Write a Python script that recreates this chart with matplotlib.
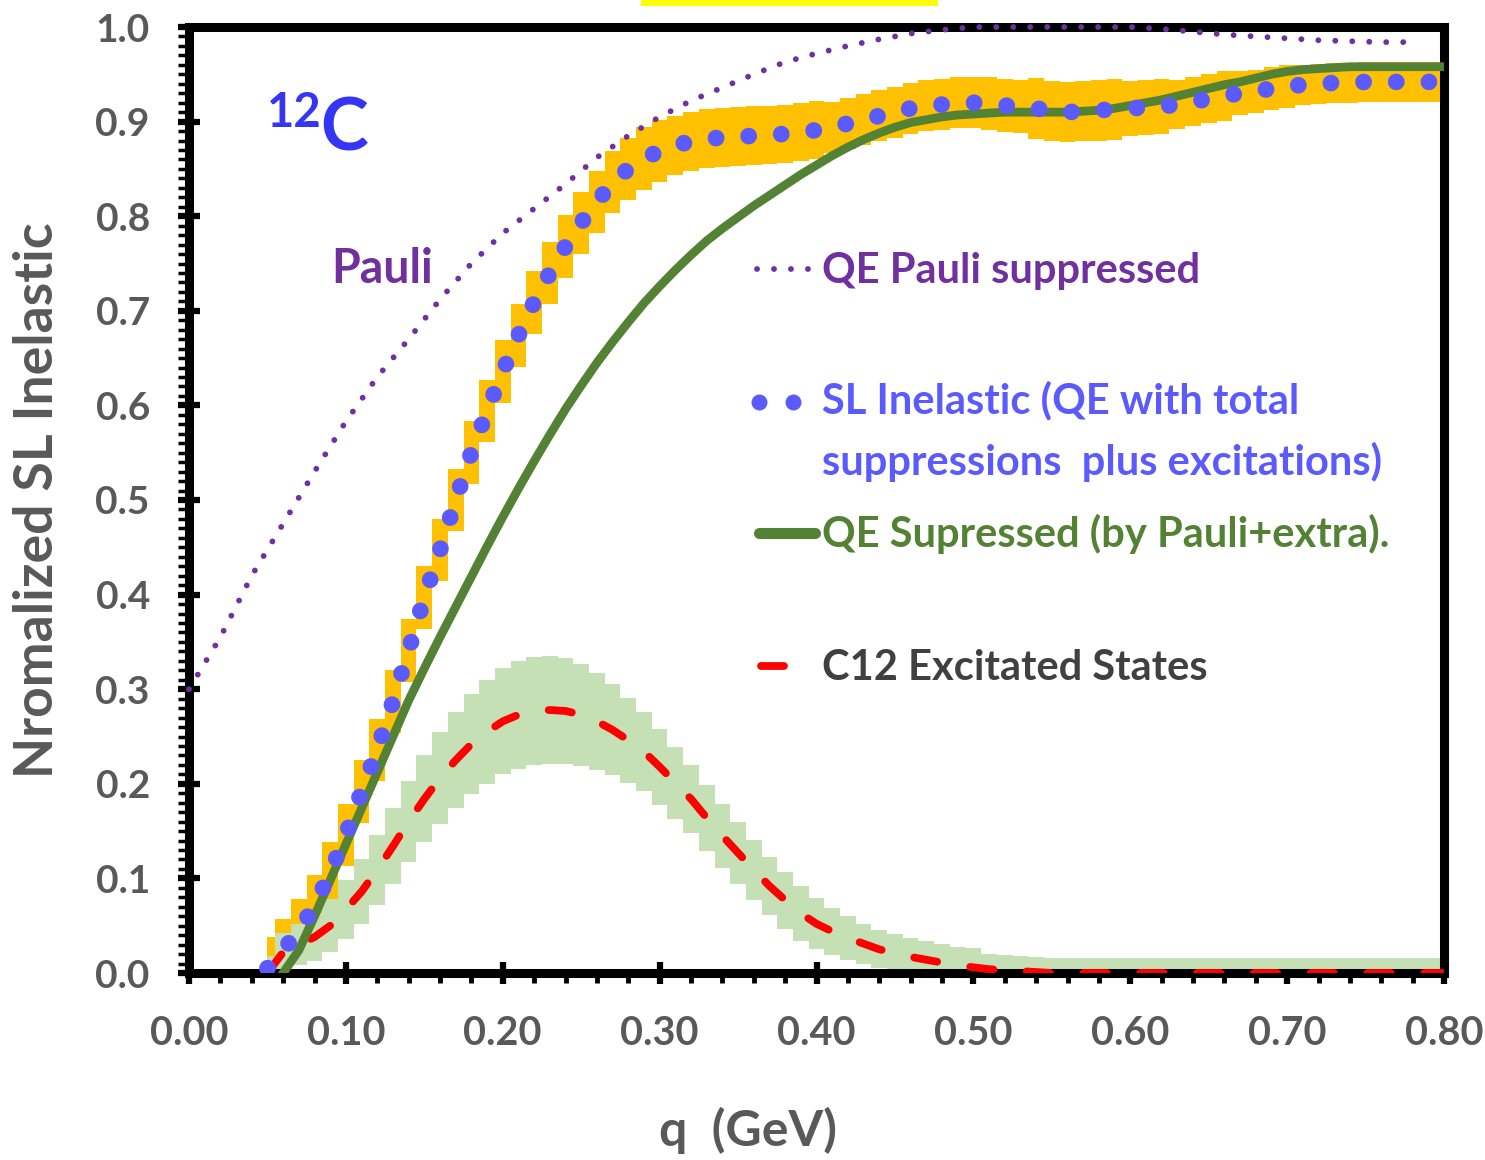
import numpy as np
import matplotlib
matplotlib.use("Agg")
import matplotlib.pyplot as plt
from matplotlib.lines import Line2D
from matplotlib.patches import Rectangle

plt.rcParams['font.family'] = ['Lato', 'DejaVu Sans']
plt.rcParams['font.weight'] = 'bold'

# sampling of the spreadsheet columns: q = 0.05 ... 0.80 GeV
q = np.round(np.arange(0.05, 0.805, 0.01), 2)

# SL inelastic (QE with total suppression plus excitations) and its band
sl = np.array([
    0.005, 0.024, 0.045, 0.071, 0.106, 0.146, 0.192, 0.236, 0.287, 0.341,
    0.397, 0.447, 0.500, 0.550, 0.594, 0.636, 0.674, 0.709, 0.740, 0.768,
    0.793, 0.815, 0.836, 0.850, 0.861, 0.869, 0.875, 0.879, 0.882, 0.883,
    0.884, 0.885, 0.886, 0.887, 0.889, 0.891, 0.894, 0.898, 0.902, 0.906,
    0.910, 0.914, 0.917, 0.918, 0.920, 0.920, 0.919, 0.917, 0.916, 0.914,
    0.911, 0.910, 0.911, 0.912, 0.913, 0.914, 0.915, 0.916, 0.918, 0.921,
    0.924, 0.927, 0.930, 0.932, 0.935, 0.937, 0.939, 0.940, 0.941, 0.941,
    0.942, 0.942, 0.942, 0.942, 0.942, 0.942])
sl_err = np.array([0.033] * 26 + [0.031] * 10 + [0.027] * 10 + [0.028] * 3
                  + [0.032] * 6 + [0.029] * 3 + [0.026] * 4 + [0.023] * 4
                  + [0.021] * 10)

# QE suppressed by Pauli + extra
qe = np.array([
    np.nan, 0.000, 0.024, 0.060, 0.098, 0.136, 0.174, 0.212, 0.250, 0.288,
    0.322, 0.355, 0.387, 0.419, 0.451, 0.482, 0.512, 0.541, 0.569, 0.596,
    0.621, 0.645, 0.667, 0.688, 0.708, 0.726, 0.743, 0.759, 0.774, 0.787,
    0.799, 0.811, 0.822, 0.833, 0.844, 0.854, 0.864, 0.873, 0.881, 0.888,
    0.894, 0.899, 0.902, 0.905, 0.907, 0.908, 0.909, 0.910, 0.910, 0.910,
    0.910, 0.910, 0.911, 0.912, 0.914, 0.917, 0.920, 0.923, 0.927, 0.931,
    0.935, 0.939, 0.942, 0.946, 0.950, 0.953, 0.955, 0.956, 0.957, 0.958,
    0.958, 0.958, 0.958, 0.958, 0.958, 0.958])

# C12 excited states and its band
c12 = np.array([
    0.000, 0.022, 0.030, 0.038, 0.050, 0.067, 0.086, 0.109, 0.134, 0.160,
    0.184, 0.206, 0.225, 0.242, 0.255, 0.266, 0.273, 0.277, 0.278, 0.277,
    0.273, 0.266, 0.257, 0.246, 0.234, 0.218, 0.201, 0.184, 0.164, 0.145,
    0.127, 0.109, 0.092, 0.077, 0.063, 0.052, 0.044, 0.037, 0.031, 0.025,
    0.021, 0.017, 0.014, 0.011, 0.008, 0.006, 0.004, 0.003, 0.002, 0.001]
    + [0.000] * 26)
c12_err = np.array([
    0.018, 0.020, 0.022, 0.025, 0.028, 0.031, 0.034, 0.037, 0.040, 0.043,
    0.046, 0.049, 0.051, 0.053, 0.055, 0.056, 0.057, 0.057, 0.057, 0.056,
    0.054, 0.051, 0.048, 0.045, 0.042, 0.040, 0.038, 0.036, 0.035, 0.034,
    0.033, 0.032, 0.031, 0.030, 0.029, 0.027, 0.025, 0.023, 0.021, 0.020]
    + [0.020] * 6 + [0.016] * 30)

# QE Pauli suppressed, coarser sampling
q_pauli = np.round(np.arange(0.0, 0.785, 0.02), 2)
pauli = np.array([
    0.300, 0.355, 0.420, 0.475, 0.530, 0.583, 0.630, 0.670, 0.712, 0.750,
    0.782, 0.808, 0.834, 0.862, 0.885, 0.905, 0.922, 0.936, 0.950, 0.963,
    0.972, 0.980, 0.987, 0.993, 0.997, 1.000, 1.000, 1.000, 1.000, 1.000,
    1.000, 0.998, 0.995, 0.992, 0.990, 0.988, 0.986, 0.985, 0.984, 0.984])

PURPLE = '#7030A0'
BLUE = '#5A5AFF'
GREEN = '#548235'
RED = '#FF0000'
GRAY = '#595959'

PAULI_LS = (0, (0.01, 2.9))
SL_LS = (0, (0.01, 1.95))
RED_LS = (0, (3.0, 4.3))

fig = plt.figure(figsize=(14.85, 11.6), dpi=100)
ax = fig.add_axes([189 / 1485, 187 / 1160, 1255 / 1485, 946 / 1160])

ax.fill_between(q, sl - sl_err, sl + sl_err, step='mid',
                color='#FFC000', lw=0, zorder=2)
ax.fill_between(q, np.clip(c12 - c12_err, 0, None), c12 + c12_err,
                step='mid', color='#C5E0B4', lw=0, zorder=2.1)

ax.plot(q, c12, color=RED, lw=5.6, ls=RED_LS,
        dash_capstyle='round', zorder=3)
ax.plot(q, qe, color=GREEN, lw=6.3, zorder=3.1)
ax.plot(q, sl, color=BLUE, lw=12, ls=SL_LS,
        dash_capstyle='round', zorder=3.2)
ax.plot(q_pauli, pauli, color=PURPLE, lw=4.2, ls=PAULI_LS,
        dash_capstyle='round', zorder=3.3, clip_on=False)

ax.set_xlim(0, 0.8)
ax.set_ylim(0, 1.0)
xt = np.round(np.arange(0, 0.81, 0.1), 2)
ax.set_xticks(xt)
ax.set_xticklabels([f'{v:.2f}' for v in xt])
ax.set_xticks(np.round(np.arange(0, 0.801, 0.02), 2), minor=True)
yt = np.round(np.arange(0, 1.01, 0.1), 1)
ax.set_yticks(yt)
ax.set_yticklabels([f'{v:.1f}' for v in yt])
ax.set_yticks(np.round(np.arange(0, 1.001, 0.01), 2), minor=True)

ax.tick_params(axis='x', which='major', direction='inout', length=16.5,
               width=4.5, pad=22, labelsize=28.5, labelcolor=GRAY)
ax.tick_params(axis='x', which='minor', direction='out', length=7.5, width=3.5)
ax.tick_params(axis='y', which='major', direction='inout', length=16.5,
               width=4.5, pad=20, labelsize=28, labelcolor=GRAY)
ax.tick_params(axis='y', which='minor', direction='out', length=8, width=2.5)
for s in ax.spines.values():
    s.set_linewidth(6.5)

# nucleus label
ax.text(0.0622, 0.894, '12', transform=ax.transAxes, fontsize=34,
        color='#3535F5', va='baseline')
ax.text(0.1044, 0.869, 'C', transform=ax.transAxes, fontsize=52,
        color='#3535F5', va='baseline')
ax.text(0.1135, 0.7294, 'Pauli', transform=ax.transAxes, fontsize=33.5,
        color=PURPLE, va='baseline')

# hand-made legend
tx = 0.5044
fs = 30
ax.add_line(Line2D([0.4526, 0.5012], [0.7442, 0.7442], transform=ax.transAxes,
                   color=PURPLE, lw=4.2, ls=PAULI_LS,
                   dash_capstyle='round', clip_on=False))
ax.text(tx, 0.7294, 'QE Pauli suppressed', transform=ax.transAxes,
        fontsize=fs, color=PURPLE, va='baseline')

ax.add_line(Line2D([0.4541, 0.4812], [0.6039, 0.6039], transform=ax.transAxes,
                   ls='none', marker='o', ms=11.5, mew=0, color=BLUE,
                   clip_on=False))
ax.text(tx, 0.5916, 'SL Inelastic (QE with total', transform=ax.transAxes,
        fontsize=fs, color=BLUE, va='baseline')
ax.text(tx, 0.5264, 'suppressions  plus excitations)', transform=ax.transAxes,
        fontsize=fs, color=BLUE, va='baseline')

ax.add_line(Line2D([0.4540, 0.4990], [0.4648, 0.4648], transform=ax.transAxes,
                   color=GREEN, lw=8, solid_capstyle='round', clip_on=False))
ax.text(tx, 0.4506, 'QE Supressed (by Pauli+extra).', transform=ax.transAxes,
        fontsize=fs, color=GREEN, va='baseline')

ax.add_line(Line2D([0.4554, 0.4745], [0.3245, 0.3245], transform=ax.transAxes,
                   color=RED, lw=5.6, solid_capstyle='round', clip_on=False))
ax.text(tx, 0.3097, 'C12 Excitated States', transform=ax.transAxes,
        fontsize=fs, color='#404040', va='baseline')

fig.text(38 / 1485, 1 - 500 / 1160, 'Nromalized SL Inelastic', rotation=90,
         ha='center', va='center', fontsize=38.5, color=GRAY)
fig.text(748 / 1485, 1 - 1130 / 1160, 'q  (GeV)', ha='center', va='center',
         fontsize=36, color=GRAY)

# highlighted strip at the top edge (title cut off in the source image)
fig.add_artist(Rectangle((641 / 1485, 1 - 6 / 1160), 297 / 1485, 6 / 1160,
                         transform=fig.transFigure, color='#FFFF00', lw=0))

fig.savefig('out.png', dpi=100)
